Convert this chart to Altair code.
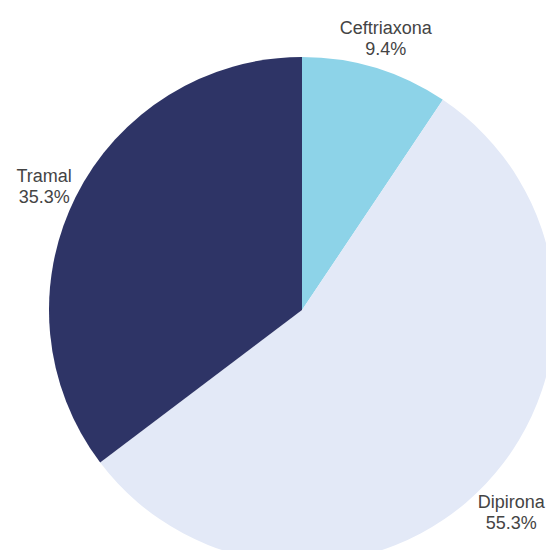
import altair as alt
import pandas as pd

categories = ["Ceftriaxona", "Dipirona", "Tramal"]
values = [9.4, 55.3, 35.3]
labels = ["9.4%", "55.3%", "35.3%"]
colors = ["#8DD3E8", "#E3E9F7", "#2E3466"]

df = pd.DataFrame({
    "cat": categories,
    "val": values,
    "pct": labels,
    "order": [0, 1, 2],
})
df["lab"] = [[c, p] for c, p in zip(df["cat"], df["pct"])]

cx, cy = 294, 302

base = alt.Chart(df).encode(
    theta=alt.Theta("val:Q", stack=True),
    order=alt.Order("order:O"),
)

arcs = base.mark_arc(radius=253, stroke=None).encode(
    x=alt.value(cx),
    y=alt.value(cy),
    color=alt.Color("cat:N", scale=alt.Scale(domain=categories, range=colors), legend=None),
)

text = base.mark_text(
    radius=288, fontSize=18, font="Liberation Sans", color="#444444",
    lineHeight=21, align="center", baseline="middle", dy=-5,
).encode(
    x=alt.value(cx),
    y=alt.value(cy),
    text="lab",
)

chart = (arcs + text).properties(
    width=538, height=542,
    autosize=alt.AutoSizeParams(type="none"),
    padding=0,
).configure_view(stroke=None)

chart.save("out.html", embed_options={"renderer": "svg", "actions": False})
